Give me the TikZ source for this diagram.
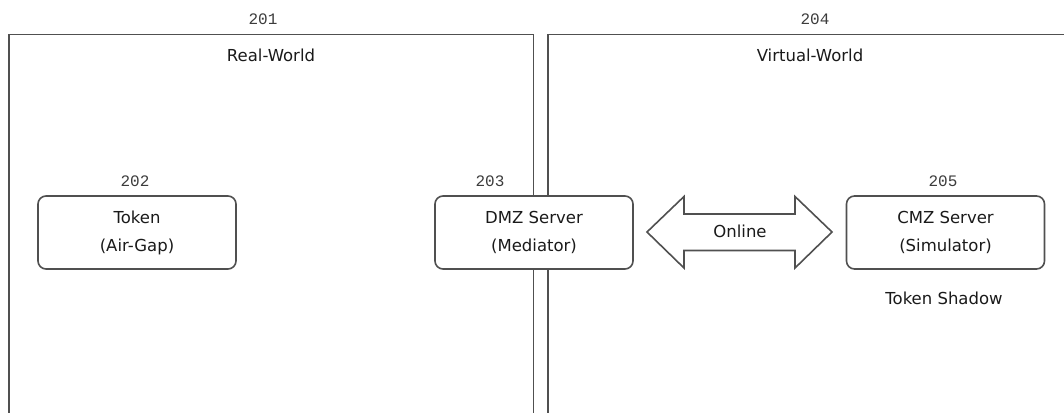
\documentclass[tikz,border=0pt]{standalone}
\usepackage{fontspec}
\setmainfont{DejaVu Sans}
\newfontfamily\numfont{Liberation Mono}
\definecolor{linegray}{HTML}{505050}
\definecolor{txt}{HTML}{1A1A1A}
\tikzset{
  zone/.style={draw=linegray, line width=1.6pt},
  box/.style={draw=linegray, line width=1.6pt, rounded corners=8pt, fill=white, minimum width=198pt, minimum height=73pt, inner sep=0pt, align=center, font=\fontsize{16.5}{28}\selectfont, text=txt},
  num/.style={font=\numfont\fontsize{16}{18}\selectfont, text=txt!85, inner sep=0pt},
  lbl/.style={font=\fontsize{16.5}{20}\selectfont, text=txt, inner sep=0pt},
  bigarrow/.style={draw=linegray, line width=1.6pt, fill=white, line join=miter}
}
\begin{document}
\begin{tikzpicture}[x=1pt,y=-1pt]
\useasboundingbox[fill=white] (0,0) rectangle (1064,412);
\begin{scope}
\clip (0,0) rectangle (1064,412);
\draw[zone] (9,34.5) rectangle (533.5,430);
\draw[zone] (548,34.5) rectangle (1080,430);
\end{scope}
\node[num] (n201) at (263,19) {201};
\node[num] (n204) at (815,19) {204};
\node[lbl] (rw) at (271,55) {Real-World};
\node[lbl] (vw) at (810,55) {Virtual-World};
\node[box] (token) at (137,232.5) {Token\\(Air-Gap)};
\node[box] (dmz) at (534,232.5) {DMZ Server\\(Mediator)};
\node[box] (cmz) at (945.5,232.5) {CMZ Server\\(Simulator)};
\node[num] (n202) at (135,181) {202};
\node[num] (n203) at (490,181) {203};
\node[num] (n205) at (943,181) {205};
\node[lbl] (shadow) at (944,298) {Token Shadow};
\draw[bigarrow] (647,232) -- (684,196.5) -- (684,214) -- (795,214) -- (795,196.5) -- (832,232)
  -- (795,268) -- (795,250.5) -- (684,250.5) -- (684,268) -- cycle;
\node[lbl] (online) at (740,231) {Online};
\end{tikzpicture}
\end{document}
